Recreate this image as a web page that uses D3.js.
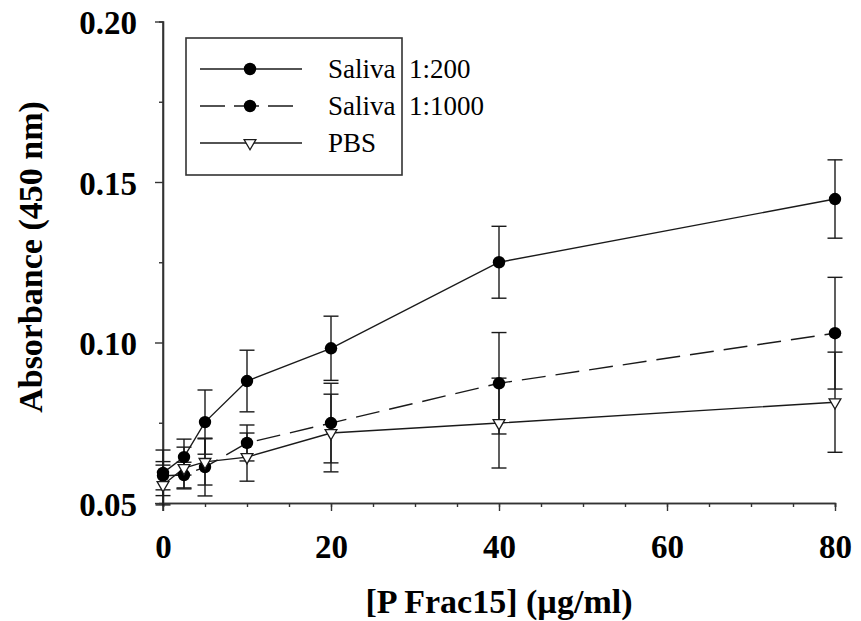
<!DOCTYPE html>
<html>
<head>
<meta charset="utf-8">
<script src="https://cdn.jsdelivr.net/npm/d3@7"></script>
<style>
  body { margin: 0; background: #fff; }
  svg text { font-family: "Liberation Serif", "Times New Roman", serif; fill: #000; }
</style>
</head>
<body>
<script>
// concentration of P Frac15 (ug/ml)
var conc = [0, 2.5, 5, 10, 20, 40, 80];

// absorbance means and error
var saliva200 = [0.0594, 0.0643, 0.0752, 0.0880, 0.0982, 0.1250, 0.1447];
var saliva200Err = [0.0071, 0.0056, 0.0100, 0.0096, 0.0100, 0.0112, 0.0122];
var saliva1000 = [0.0585, 0.0587, 0.0612, 0.0687, 0.0749, 0.0873, 0.1029];
var saliva1000Err = [0.0044, 0.0040, 0.0090, 0.0056, 0.0124, 0.0158, 0.0174];
var pbs = [0.0556, 0.0609, 0.0628, 0.0643, 0.0718, 0.0749, 0.0814];
var pbsErr = [0.0062, 0.0065, 0.0072, 0.0075, 0.0121, 0.0140, 0.0156];

var seriesNames = ['Saliva  1:200', 'Saliva  1:1000', 'PBS'];
var xTicks = [0, 20, 40, 60, 80];
var yTicks = [0.05, 0.10, 0.15, 0.20];

var width = 861, height = 621;
var lineColor = '#1a1a1a';

var svg = d3.select('body').append('svg')
    .attr('width', width)
    .attr('height', height);

// scales
var xScale = d3.scaleLinear().domain([0, 80]).range([163, 835]);
var yScale = d3.scaleLinear().domain([0.05, 0.20]).range([503, 21.5]);

// build series table from the arrays
var series = [
  {name: seriesNames[0], y: saliva200, err: saliva200Err, dash: null, marker: 'circle'},
  {name: seriesNames[1], y: saliva1000, err: saliva1000Err, dash: '24,10', marker: 'circle'},
  {name: seriesNames[2], y: pbs, err: pbsErr, dash: null, marker: 'triangle'}
];
series.forEach(function(s) {
  s.points = conc.map(function(c, i) { return {x: c, y: s.y[i], e: s.err[i]}; });
});

// axes
function styleAxis(g) {
  g.select('.domain').attr('stroke', '#333').attr('stroke-width', 1.6);
  g.selectAll('.tick line').attr('stroke', '#333').attr('stroke-width', 1.4);
}

// minor x ticks every 5
svg.append('g')
    .attr('transform', 'translate(0,503)')
    .call(d3.axisBottom(xScale).tickValues(d3.range(0, 81, 5)).tickSize(4).tickFormat(''))
    .call(styleAxis);
// major x ticks
var xAxisG = svg.append('g')
    .attr('transform', 'translate(0,503)')
    .call(d3.axisBottom(xScale).tickValues(xTicks).tickSize(8).tickSizeOuter(0).tickPadding(24))
    .call(styleAxis);
xAxisG.selectAll('.tick text')
    .style('font-family', '"Liberation Serif", serif')
    .style('font-weight', 'bold')
    .style('font-size', '33px')
    .attr('dy', 0)
    .attr('y', 55);

// minor y ticks
svg.append('g')
    .attr('transform', 'translate(163,0)')
    .call(d3.axisLeft(yScale).tickValues([0.075, 0.125, 0.175]).tickSize(4).tickFormat(''))
    .call(styleAxis);
var yAxisG = svg.append('g')
    .attr('transform', 'translate(163,0)')
    .call(d3.axisLeft(yScale).tickValues(yTicks).tickSize(8).tickSizeOuter(0).tickFormat(d3.format('.2f')))
    .call(styleAxis);
yAxisG.selectAll('.tick text')
    .style('font-family', '"Liberation Serif", serif')
    .style('font-weight', 'bold')
    .style('font-size', '33px')
    .attr('x', -26)
    .attr('dy', 12);
// domain of y axis reaches down to the x tick
yAxisG.select('.domain').attr('d', 'M0,' + yScale(0.20) + 'V511');

// lines
var line = d3.line()
    .x(function(d) { return xScale(d.x); })
    .y(function(d) { return yScale(d.y); });

series.forEach(function(s) {
  svg.append('path')
      .datum(s.points)
      .attr('d', line)
      .attr('fill', 'none')
      .attr('stroke', lineColor)
      .attr('stroke-width', 1.4)
      .attr('stroke-dasharray', s.dash);
});

// error bars
var capHalf = 7.5;
series.forEach(function(s) {
  var g = svg.append('g').attr('stroke', lineColor).attr('stroke-width', 1.4);
  s.points.forEach(function(p) {
    var cx = xScale(p.x);
    var y0 = yScale(p.y + p.e), y1 = yScale(p.y - p.e);
    g.append('line').attr('x1', cx).attr('x2', cx).attr('y1', y0).attr('y2', y1);
    g.append('line').attr('x1', cx - capHalf).attr('x2', cx + capHalf).attr('y1', y0).attr('y2', y0);
    g.append('line').attr('x1', cx - capHalf).attr('x2', cx + capHalf).attr('y1', y1).attr('y2', y1);
  });
});

// markers
function drawMarker(g, type, cx, cy) {
  if (type === 'circle') {
    g.append('circle').attr('cx', cx).attr('cy', cy).attr('r', 6.2).attr('fill', '#000');
  } else {
    var t = d3.symbol().type(d3.symbolTriangle).size(60)();
    g.append('path')
        .attr('d', t)
        .attr('transform', 'translate(' + cx + ',' + cy + ') rotate(180)')
        .attr('fill', '#fff')
        .attr('stroke', lineColor)
        .attr('stroke-width', 1.3);
  }
}
series.forEach(function(s) {
  var g = svg.append('g');
  s.points.forEach(function(p) { drawMarker(g, s.marker, xScale(p.x), yScale(p.y)); });
});

// axis titles
svg.append('text')
    .attr('x', 499)
    .attr('y', 613)
    .attr('text-anchor', 'middle')
    .style('font-weight', 'bold')
    .style('font-size', '34px')
    .text('[P Frac15] (\u00b5g/ml)');

svg.append('text')
    .attr('transform', 'translate(42,257) rotate(-90)')
    .attr('text-anchor', 'middle')
    .style('font-weight', 'bold')
    .style('font-size', '34px')
    .text('Absorbance (450 nm)');

// legend
var legend = svg.append('g');
legend.append('rect')
    .attr('x', 186).attr('y', 38)
    .attr('width', 216).attr('height', 137)
    .attr('fill', '#fff')
    .attr('stroke', '#333')
    .attr('stroke-width', 1.6);

var legendY = d3.scalePoint().domain(seriesNames).range([69, 143]);
series.forEach(function(s) {
  var ly = legendY(s.name);
  legend.append('line')
      .attr('x1', 200).attr('x2', 302)
      .attr('y1', ly).attr('y2', ly)
      .attr('stroke', lineColor)
      .attr('stroke-width', 1.4)
      .attr('stroke-dasharray', s.dash ? '25,9' : null);
  drawMarker(legend, s.marker, 250, ly);
  legend.append('text')
      .attr('x', 328)
      .attr('y', ly + 9)
      .style('font-size', '27px')
      .style('white-space', 'pre')
      .attr('xml:space', 'preserve')
      .text(s.name);
});
</script>
</body>
</html>
